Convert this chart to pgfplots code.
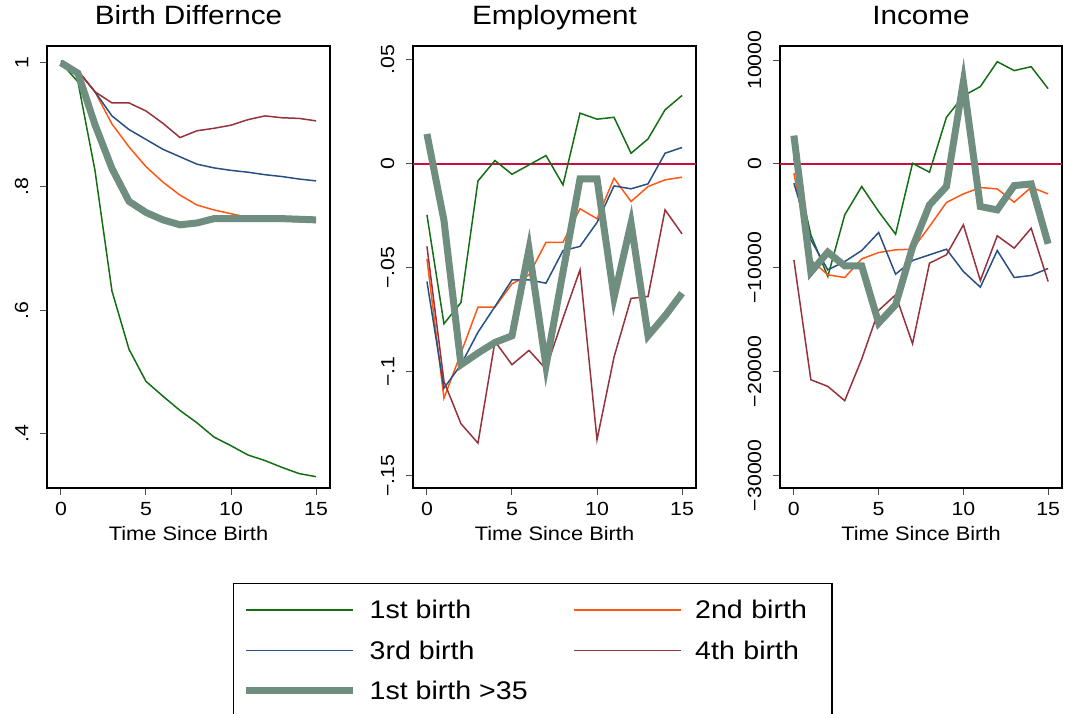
\documentclass[border=0pt]{standalone}
\usepackage{pgfplots}
\pgfplotsset{compat=1.18}
\usepackage{fontspec}
\setmainfont{Liberation Sans}[FakeStretch=1.12]
\definecolor{cgreen}{RGB}{20,110,20}
\definecolor{corange}{RGB}{255,88,20}
\definecolor{cblue}{RGB}{40,80,130}
\definecolor{cred}{RGB}{150,50,60}
\definecolor{cgrey}{RGB}{112,142,128}
\definecolor{czero}{RGB}{200,15,60}
\newcommand\tickfont{\fontsize{19}{22}\selectfont}
\newcommand\labfont{\fontsize{19.5}{23}\selectfont}
\newcommand\titfont{\fontsize{26.5}{30}\selectfont}
\newcommand\legfont{\fontsize{25.5}{30}\selectfont}
\pgfplotsset{
  panel/.style={
    scale only axis, width=283pt, height=442pt,
    xmin=-0.82, xmax=15.82, xtick={0,5,10,15},
    tick align=outside, tick pos=left, major tick length=7pt,
    every tick/.style={black!70, line width=1pt},
    axis line style={line width=1.3pt},
    ticklabel style={font=\tickfont},
    /pgf/number format/assume math mode=true,
    xticklabel style={anchor=base},
    xticklabel shift=21pt,
    yticklabel style={rotate=90, anchor=south, inner sep=0pt},
    yticklabel shift=11.5pt,
    title style={font=\titfont, at={(axis description cs:0.5,1)}, anchor=base, yshift=15pt},
    xlabel={Time Since Birth},
    xlabel style={font=\labfont, at={(axis description cs:0.5,0)}, anchor=base, yshift=-53pt},
  },
  thinl/.style={line width=1.5pt},
  thickl/.style={line width=7pt, color=cgrey},
}
\begin{document}
\begin{tikzpicture}
\path[use as bounding box] (0,0) rectangle (1065pt,714pt);
% Panel 1
\begin{axis}[panel, at={(47pt,226pt)}, anchor=south west,
  title={Birth Differnce},
  ymin=0.3127, ymax=1.027, ytick={0.4,0.6,0.8,1}, yticklabels={.4,.6,.8,1},
  legend columns=2,
  legend cell align=left,
  legend style={at={(axis description cs:0.6572,-0.2149)}, anchor=north west,
    draw=black, line width=1.5pt, font=\legfont,
    inner xsep=9pt, inner ysep=16.5pt,
    row sep=20.4pt,
    nodes={inner sep=0pt},
    /tikz/every odd column/.append style={column sep=13pt},
    /tikz/every even column/.append style={column sep=46pt},
    /tikz/column 4/.append style={nodes={text width=128pt}}},
  legend image code/.code={\draw[#1] (0pt,0pt) -- (107pt,0pt);},
]
\addplot[thinl, cgreen] coordinates {(0,1.0)(1,0.969)(2,0.826)(3,0.631)(4,0.537)(5,0.485)(6,0.461)(7,0.438)(8,0.418)(9,0.395)(10,0.381)(11,0.366)(12,0.357)(13,0.346)(14,0.336)(15,0.331)};
\addlegendentry{1st birth}
\addplot[thinl, corange] coordinates {(0,1.0)(1,0.987)(2,0.953)(3,0.901)(4,0.864)(5,0.832)(6,0.807)(7,0.786)(8,0.770)(9,0.762)(10,0.756)(11,0.750)(12,0.748)(13,0.745)(14,0.743)(15,0.742)};
\addlegendentry{2nd birth}
\addplot[thinl, cblue] coordinates {(0,1.0)(1,0.987)(2,0.953)(3,0.914)(4,0.892)(5,0.876)(6,0.860)(7,0.848)(8,0.836)(9,0.830)(10,0.826)(11,0.823)(12,0.819)(13,0.816)(14,0.812)(15,0.809)};
\addlegendentry{3rd birth}
\addplot[thinl, cred] coordinates {(0,1.003)(1,0.987)(2,0.953)(3,0.935)(4,0.935)(5,0.922)(6,0.902)(7,0.879)(8,0.890)(9,0.894)(10,0.899)(11,0.908)(12,0.914)(13,0.911)(14,0.910)(15,0.906)};
\addlegendentry{4th birth}
\addplot[thickl] coordinates {(0,1.0)(1,0.983)(2,0.90)(3,0.829)(4,0.776)(5,0.758)(6,0.746)(7,0.738)(8,0.741)(9,0.748)(10,0.748)(11,0.748)(12,0.748)(13,0.748)(14,0.747)(15,0.746)};
\addlegendentry{1st birth >35}
\end{axis}
% Panel 2
\begin{axis}[panel, at={(413pt,226pt)}, anchor=south west,
  title={Employment},
  ymin=-0.1559, ymax=0.0567, ytick={-0.15,-0.1,-0.05,0,0.05}, yticklabels={−.15,−.1,−.05,0,.05},
]
\addplot[line width=2pt, czero, forget plot] coordinates {(-0.82,0)(15.82,0)};
\addplot[thinl, cgreen] coordinates {(0,-0.0245)(1,-0.0769)(2,-0.0667)(3,-0.0082)(4,0.0016)(5,-0.005)(6,-0.0005)(7,0.004)(8,-0.0101)(9,0.0244)(10,0.0215)(11,0.0224)(12,0.0051)(13,0.012)(14,0.026)(15,0.0329)};
\addplot[thinl, corange] coordinates {(0,-0.0457)(1,-0.1127)(2,-0.091)(3,-0.0689)(4,-0.0689)(5,-0.0577)(6,-0.0534)(7,-0.0377)(8,-0.0377)(9,-0.0216)(10,-0.0264)(11,-0.0069)(12,-0.0181)(13,-0.0109)(14,-0.0077)(15,-0.0064)};
\addplot[thinl, cblue] coordinates {(0,-0.0566)(1,-0.1079)(2,-0.0966)(3,-0.081)(4,-0.0686)(5,-0.0558)(6,-0.0558)(7,-0.0574)(8,-0.0417)(9,-0.0397)(10,-0.0282)(11,-0.0106)(12,-0.012)(13,-0.0096)(14,0.0051)(15,0.0079)};
\addplot[thinl, cred] coordinates {(0,-0.0397)(1,-0.1046)(2,-0.125)(3,-0.1343)(4,-0.0854)(5,-0.0966)(6,-0.0897)(7,-0.0987)(8,-0.0742)(9,-0.051)(10,-0.1327)(11,-0.0929)(12,-0.0647)(13,-0.0638)(14,-0.0221)(15,-0.0337)};
\addplot[thickl] coordinates {(0,0.0144)(1,-0.0272)(2,-0.0966)(3,-0.091)(4,-0.0859)(5,-0.0827)(6,-0.041)(7,-0.0971)(8,-0.052)(9,-0.0072)(10,-0.0072)(11,-0.0643)(12,-0.0285)(13,-0.0827)(14,-0.0731)(15,-0.0622)};
\end{axis}
% Panel 3
\begin{axis}[panel, at={(780pt,226pt)}, anchor=south west,
  width=282pt,
  title={Income},
  ymin=-31233, ymax=11363, ytick={-30000,-20000,-10000,0,10000}, yticklabels={−30000,−20000,−10000,0,10000},
  scaled y ticks=false,
]
\addplot[line width=2pt, czero, forget plot] coordinates {(-0.82,0)(15.82,0)};
\addplot[thinl, cgreen] coordinates {(0,480)(1,-6840)(2,-10850)(3,-4910)(4,-2180)(5,-4590)(6,-6770)(7,60)(8,-800)(9,4490)(10,6550)(11,7450)(12,9850)(13,8990)(14,9370)(15,7250)};
\addplot[thinl, corange] coordinates {(0,-900)(1,-9250)(2,-10690)(3,-10950)(4,-9150)(5,-8540)(6,-8280)(7,-8220)(8,-6030)(9,-3720)(10,-2890)(11,-2280)(12,-2410)(13,-3690)(14,-2250)(15,-2890)};
\addplot[thinl, cblue] coordinates {(0,-1860)(1,-7320)(2,-10210)(3,-9410)(4,-8350)(5,-6610)(6,-10630)(7,-9310)(8,-8760)(9,-8220)(10,-10370)(11,-11880)(12,-8350)(13,-10950)(14,-10750)(15,-10080)};
\addplot[thinl, cred] coordinates {(0,-9250)(1,-20800)(2,-21440)(3,-22820)(4,-18810)(5,-14120)(6,-12620)(7,-17330)(8,-9570)(9,-8760)(10,-5870)(11,-11240)(12,-6930)(13,-8120)(14,-6200)(15,-11330)};
\addplot[thickl] coordinates {(0,2730)(1,-10430)(2,-8510)(3,-9820)(4,-9820)(5,-15340)(6,-13580)(7,-8030)(8,-3950)(9,-2180)(10,7930)(11,-4110)(12,-4430)(13,-2090)(14,-1930)(15,-7700)};
\end{axis}
\end{tikzpicture}
\end{document}
